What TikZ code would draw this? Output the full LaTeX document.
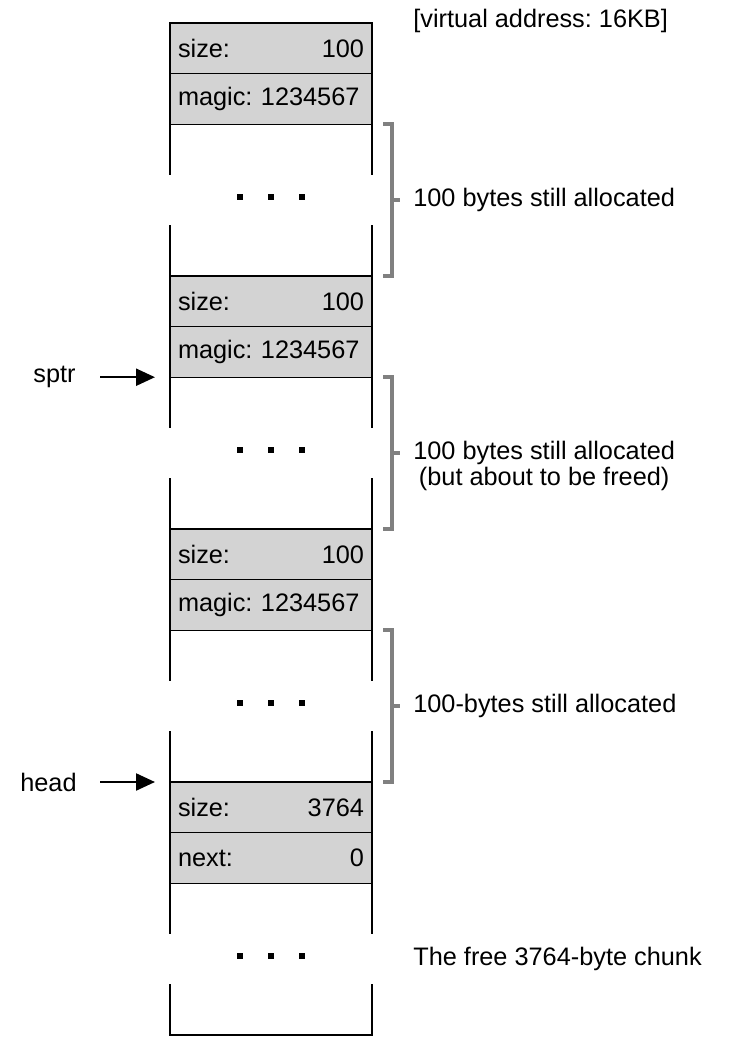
\documentclass[tikz,border=0pt]{standalone}
\usepackage{fontspec}
\setmainfont{Liberation Sans}
\usepackage{tikz}
\usetikzlibrary{arrows.meta, positioning, calc}
\frenchspacing
\definecolor{cellgray}{HTML}{D3D3D3}
\definecolor{bracegray}{HTML}{808080}
\tikzstyle{cell} = [rectangle, draw=black, line width=0.7pt, fill=cellgray, minimum width=4.04cm, minimum height=1.012cm, text width=3.72cm, inner xsep=0.16cm, inner ysep=1pt, outer sep=0pt]
\tikzstyle{gap} = [rectangle, minimum width=4.04cm, minimum height=3.036cm, inner sep=0pt, outer sep=0pt]
\tikzstyle{wall} = [line width=0.7pt]
\tikzstyle{brace} = [line width=2.4pt, draw=bracegray]
\tikzstyle{note} = [inner sep=0pt]
\tikzstyle{ptr} = [line width=1.3pt, -{Triangle[length=0.38cm,width=0.34cm]}]

\begin{document}
\begin{tikzpicture}[every node/.style={font=\fontsize{14.4pt}{14.6pt}\selectfont}]
  \useasboundingbox (0,0) rectangle (14.74,-20.98);
  \node[cell, anchor=north] (size1) at (5.42,-0.46) {size:\hfill 100};
  \node[cell, below=0pt of size1] (magic1) {\mbox{magic: 1234567}};
  \node[gap, below=0pt of magic1] (gap1) {};
  \node[cell, below=0pt of gap1] (size2) {size:\hfill 100};
  \node[cell, below=0pt of size2] (magic2) {\mbox{magic: 1234567}};
  \node[gap, below=0pt of magic2] (gap2) {};
  \node[cell, below=0pt of gap2] (size3) {size:\hfill 100};
  \node[cell, below=0pt of size3] (magic3) {\mbox{magic: 1234567}};
  \node[gap, below=0pt of magic3] (gap3) {};
  \node[cell, below=0pt of gap3] (size4) {size:\hfill 3764};
  \node[cell, below=0pt of size4] (next4) {next:\hfill 0};
  \node[gap, below=0pt of next4] (gap4) {};

  \foreach \g in {gap1,gap2,gap3} {
    \draw[wall] (\g.north west) -- ++(0,-1.012) (\g.north east) -- ++(0,-1.012);
    \draw[wall] (\g.south west) -- ++(0,1.012) (\g.south east) -- ++(0,1.012);
  }
  \draw[wall] (gap4.north west) -- ++(0,-1.012) (gap4.north east) -- ++(0,-1.012);
  \draw[wall] ([yshift=1.012cm]gap4.south west) -- (gap4.south west) -- (gap4.south east) -- ++(0,1.012);

  \foreach \g in {gap1,gap2,gap3,gap4}
    \foreach \dx in {-0.62,0,0.62}
      \fill ([shift={(\dx-0.055,0.005)}]\g.center) rectangle ++(0.11,0.11);

  \foreach \g/\t in {gap1/tip1, gap2/tip2, gap3/tip3} {
    \draw[brace] ([xshift=0.22cm]\g.north east) -| ([xshift=0.40cm]\g.south east) -- ([xshift=0.22cm]\g.south east);
    \draw[brace] ([xshift=0.40cm]\g.east) -- ++(0.16,0) coordinate (\t);
  }

  \node[note, right=0.26cm of tip1] (alloc1) {100 bytes still allocated};
  \node[note, align=center, right=0.26cm of tip2, yshift=-0.26cm] (alloc2) {100 bytes still allocated\\(but about to be freed)};
  \node[note, right=0.26cm of tip3] (alloc3) {100-bytes still allocated};
  \node[note, right=0.82cm of gap4] (freechunk) {The free 3764-byte chunk};
  \node[note, anchor=west] (vaddr) at ([xshift=0.82cm, yshift=0.04cm]size1.north east) {[virtual address: 16KB]};

  \coordinate[left=0.3cm of gap2.north west] (sptrtip);
  \node[note, left=1.58cm of sptrtip] (sptr) {sptr};
  \draw[ptr] ([xshift=0.48cm]sptr.east) -- (sptrtip);
  \coordinate[left=0.3cm of size4.north west] (headtip);
  \node[note, left=1.56cm of headtip] (head) {head};
  \draw[ptr] ([xshift=0.46cm]head.east) -- (headtip);
\end{tikzpicture}
\end{document}
